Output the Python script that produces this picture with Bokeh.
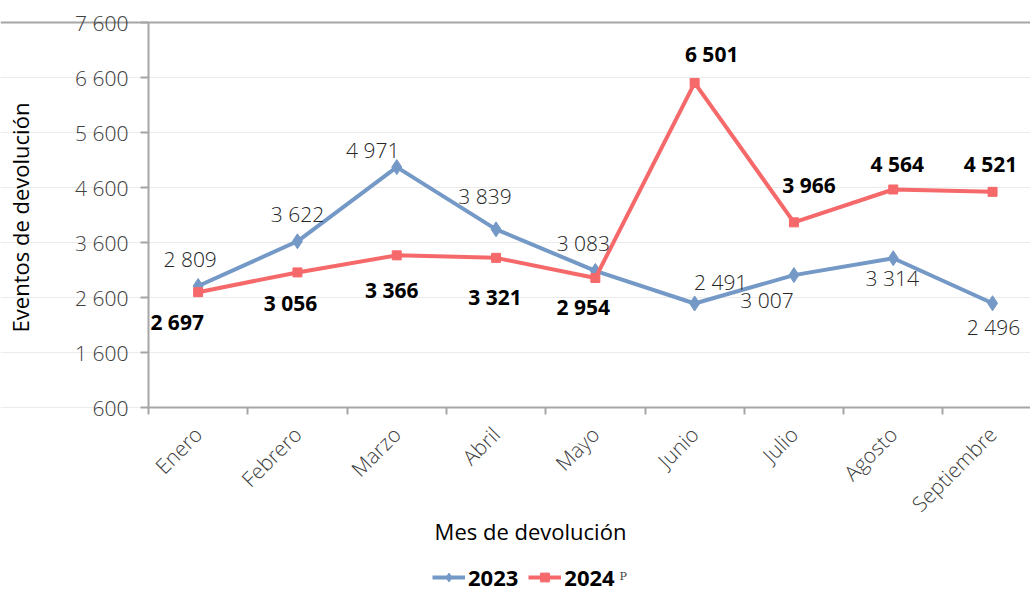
import math
from bokeh.plotting import figure
from bokeh.models import (Range1d, FixedTicker, Grid, Label, Legend, LegendItem,
                          ColumnDataSource)
from bokeh.embed import file_html
from bokeh.resources import INLINE
from bokeh.core.properties import value

# ---------------- data ----------------
months = ["Enero", "Febrero", "Marzo", "Abril", "Mayo", "Junio", "Julio", "Agosto", "Septiembre"]
v2023 = [2809, 3622, 4971, 3839, 3083, 2491, 3007, 3314, 2496]
v2024 = [2697, 3056, 3366, 3321, 2954, 6501, 3966, 4564, 4521]
y_ticks = [600, 1600, 2600, 3600, 4600, 5600, 6600, 7600]

# label offsets in px (styling)
off23 = [(-8, -27), (0, -27), (-24, -17), (-11, -33), (-12, -28), (26, -21), (-27, 25), (-1, 20), (1, 24)]
off24 = [(-21, 30), (-7, 31), (-5, 35), (-1, 39), (-12, 29), (17, -29), (15, -37), (4, -25), (-2, -28)]


def fmt(v):
    return f"{v:,}".replace(",", " ")


BLUE = "#7499C6"
RED = "#F6696B"
AXIS = "#A6A6A6"
THIN = "Open Sans Light, Lato Light"
BOLD = "Noto Sans"
MED = "Open Sans Medium, Open Sans"

xs = list(range(len(months)))
src23 = ColumnDataSource(dict(x=xs, y=v2023, t=[fmt(v) for v in v2023],
                              dx=[o[0] for o in off23], dy=[o[1] for o in off23]))
src24 = ColumnDataSource(dict(x=xs, y=v2024, t=[fmt(v) for v in v2024],
                              dx=[o[0] for o in off24], dy=[o[1] for o in off24]))

# The frame covers the whole canvas; the plotting area is left 148..1030, top 22..407
PX_X = 99.3          # px per category
PX_Y = 55.0 / 1000   # px per unit
X0 = -0.5 - 148 / PX_X
X1 = -0.5 + 882 / PX_X
Y0 = 600 - (592 - 407) / PX_Y
Y1 = 7600 + 22 / PX_Y
p = figure(width=1030, height=592, min_border=0,
           x_range=Range1d(X0, X1), y_range=Range1d(Y0, Y1),
           output_backend="svg", toolbar_location=None, tools="")
p.outline_line_color = None
p.background_fill_color = "white"
p.border_fill_color = "white"

# grid
p.xgrid.grid_line_color = None
p.ygrid.ticker = FixedTicker(ticks=y_ticks[:-1])
p.ygrid.bounds = (-0.5, X1)
p.ygrid.grid_line_color = "#EBEBEB"
p.ygrid.grid_line_width = 1
top = Grid(dimension=1, ticker=FixedTicker(ticks=[y_ticks[-1]]), bounds=(-0.5, X1),
           grid_line_color=AXIS, grid_line_width=2)
p.add_layout(top)

# y axis drawn at the left edge of the plotting area
ya = p.yaxis[0]
ya.fixed_location = -0.5
ya.bounds = (y_ticks[0], y_ticks[-1])
ya.ticker = FixedTicker(ticks=y_ticks)
ya.major_label_overrides = {t: fmt(t) for t in y_ticks}
ya.axis_line_color = AXIS
ya.axis_line_width = 2
ya.major_tick_line_color = AXIS
ya.major_tick_line_width = 2
ya.major_tick_out = 8
ya.major_tick_in = 0
ya.minor_tick_line_color = None
ya.major_label_text_font = THIN
ya.major_label_text_font_size = "21px"
ya.major_label_text_color = "#404040"
ya.major_label_standoff = 12

# x axis drawn at value 600
xa = p.xaxis[0]
xa.fixed_location = y_ticks[0]
xa.bounds = (-0.5, X1)
xa.ticker = FixedTicker(ticks=xs, minor_ticks=[i - 0.5 for i in range(len(months) + 1)])
xa.major_label_overrides = {i: m for i, m in enumerate(months)}
xa.axis_line_color = AXIS
xa.axis_line_width = 2
xa.major_tick_line_color = None
xa.minor_tick_line_color = AXIS
xa.minor_tick_line_width = 2
xa.minor_tick_out = 7
xa.minor_tick_in = 0
xa.major_label_orientation = math.pi / 4
xa.major_label_text_font = THIN
xa.major_label_text_font_size = "21px"
xa.major_label_text_color = "#404040"
xa.major_label_standoff = 16

# lines
l23 = p.line("x", "y", source=src23, line_color=BLUE, line_width=4)
m23 = p.scatter("x", "y", source=src23, marker="diamond", size=15, fill_color=BLUE, line_color=BLUE)
l24 = p.line("x", "y", source=src24, line_color=RED, line_width=4)
m24 = p.scatter("x", "y", source=src24, marker="square", size=9, fill_color=RED, line_color=RED)

p.text("x", "y", text="t", source=src23, x_offset="dx", y_offset="dy",
       text_align="center", text_baseline="middle", text_font=value(THIN),
       text_font_size="21px", text_color="#262626")
p.text("x", "y", text="t", source=src24, x_offset="dx", y_offset="dy",
       text_align="center", text_baseline="middle", text_font=value(BOLD),
       text_font_style="bold", text_font_size="21px", text_color="#000000")

# axis titles
p.add_layout(Label(x=530, y=62, x_units="screen", y_units="screen", text="Mes de devolución",
                   text_align="center", text_baseline="middle", text_font=MED,
                   text_font_size="22px", text_color="#000000"))
p.add_layout(Label(x=19, y=592 - 217, x_units="screen", y_units="screen",
                   text="Eventos de devolución", angle=math.pi / 2,
                   text_align="center", text_baseline="middle", text_font=MED,
                   text_font_size="22px", text_color="#000000"))

# legend
legend = Legend(items=[LegendItem(label="2023", renderers=[l23, m23]),
                       LegendItem(label="2024", renderers=[l24, m24])],
                orientation="horizontal", location=(432, 0),
                glyph_width=33, glyph_height=22, label_standoff=3, spacing=10,
                padding=0, margin=0, border_line_color=None, background_fill_alpha=0,
                label_text_font=BOLD, label_text_font_style="bold",
                label_text_font_size="22px", label_text_color="#000000")
p.add_layout(legend, "center")
p.add_layout(Label(x=619, y=10, x_units="screen", y_units="screen", text="P",
                   text_font="DejaVu Serif", text_font_size="11px", text_color="#404040"))

open("out.html", "w").write(file_html(p, INLINE))
